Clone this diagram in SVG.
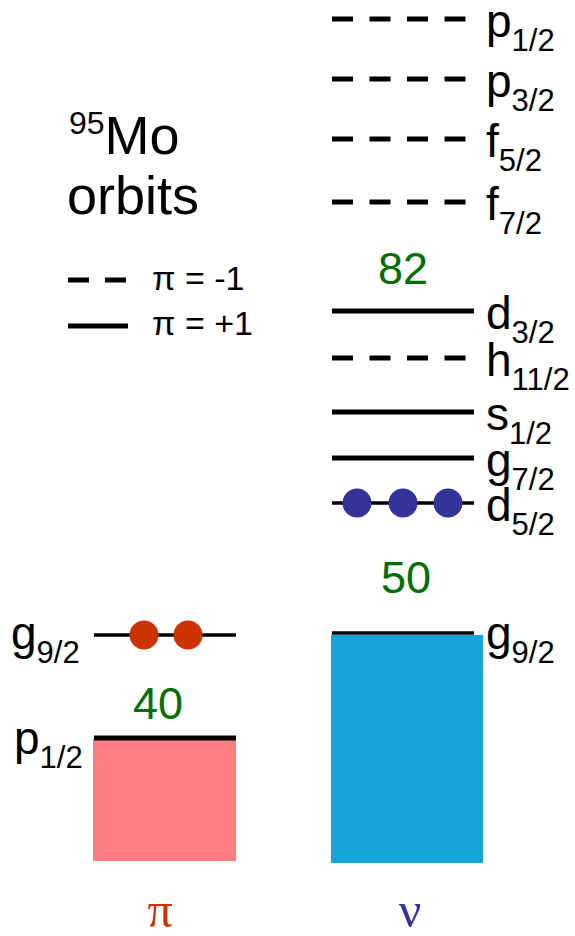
<svg xmlns="http://www.w3.org/2000/svg" width="575" height="936" viewBox="0 0 575 936">
<style>
.t{font-family:"Liberation Sans",Arial,sans-serif;fill:#000}
.lab{font-size:46px}
.sub{font-size:31px}
.num{font-family:"Liberation Sans",Arial,sans-serif;font-size:45px;fill:#006E00;text-anchor:middle}
.solid{stroke:#000;stroke-width:5;fill:none}
.thin{stroke:#000;stroke-width:3.5;fill:none}
.dash{stroke:#000;stroke-width:5;fill:none;stroke-dasharray:21 16.5}
.greek{font-family:"Liberation Serif","Times New Roman",serif;font-size:50px;text-anchor:middle}
</style>
<rect width="575" height="936" fill="#fff"/>
<g id="title">
<text class="t" x="69" y="154" font-size="54"><tspan font-size="32" dy="-20">95</tspan><tspan dy="20">Mo</tspan></text>
<text class="t" x="67" y="214" font-size="54">orbits</text>
</g>
<g id="legend">
<line class="dash" x1="68" y1="280" x2="126" y2="280" style="stroke-dasharray:21 16"/>
<line class="solid" x1="68" y1="326" x2="128" y2="326"/>
<text class="t" x="152" y="290" font-size="34">π = -1</text>
<text class="t" x="152" y="335" font-size="34">π = +1</text>
</g>
<g id="proton-core">
<rect x="93" y="739" width="143" height="122" fill="#FF7F80"/>
<line class="solid" x1="94" y1="738" x2="236" y2="738"/>
<text class="t lab" x="14" y="754">p<tspan class="sub" dy="14">1/2</tspan></text>
<text class="num" x="158" y="719">40</text>
</g>
<g id="proton-g92">
<line class="thin" x1="94" y1="635" x2="236" y2="635"/>
<circle cx="144" cy="635" r="14.5" fill="#CC3300"/>
<circle cx="188" cy="635" r="14.5" fill="#CC3300"/>
<text class="t lab" x="11" y="649">g<tspan class="sub" dy="14">9/2</tspan></text>
</g>
<g id="neutron-core">
<rect x="331" y="635" width="152" height="228" fill="#18A6DA"/>
<line class="thin" x1="332" y1="633" x2="474" y2="633"/>
<text class="t lab" x="486" y="649">g<tspan class="sub" dy="14">9/2</tspan></text>
<text class="num" x="406" y="593">50</text>
</g>
<g id="neutron-d52">
<line class="thin" x1="332" y1="503" x2="474" y2="503"/>
<circle cx="357" cy="503" r="14.5" fill="#333399"/>
<circle cx="403" cy="503" r="14.5" fill="#333399"/>
<circle cx="448" cy="503" r="14.5" fill="#333399"/>
<text class="t lab" x="486" y="521">d<tspan class="sub" dy="14">5/2</tspan></text>
</g>
<g id="neutron-g72">
<line class="solid" x1="332" y1="458" x2="474" y2="458"/>
<text class="t lab" x="486" y="476">g<tspan class="sub" dy="14">7/2</tspan></text>
</g>
<g id="neutron-s12">
<line class="solid" x1="332" y1="412" x2="474" y2="412"/>
<text class="t lab" x="486" y="430">s<tspan class="sub" dy="14">1/2</tspan></text>
</g>
<g id="neutron-h112">
<line class="dash" x1="332" y1="358" x2="466" y2="358"/>
<text class="t lab" x="486" y="376">h<tspan class="sub" dy="14">11/2</tspan></text>
</g>
<g id="neutron-d32">
<line class="solid" x1="332" y1="311" x2="474" y2="311"/>
<text class="t lab" x="486" y="329">d<tspan class="sub" dy="14">3/2</tspan></text>
<text class="num" x="403" y="284">82</text>
</g>
<g id="neutron-f72">
<line class="dash" x1="332" y1="202" x2="466" y2="202"/>
<text class="t lab" x="486" y="220">f<tspan class="sub" dy="14">7/2</tspan></text>
</g>
<g id="neutron-f52">
<line class="dash" x1="332" y1="139" x2="466" y2="139"/>
<text class="t lab" x="486" y="157">f<tspan class="sub" dy="14">5/2</tspan></text>
</g>
<g id="neutron-p32">
<line class="dash" x1="332" y1="79" x2="466" y2="79"/>
<text class="t lab" x="486" y="97">p<tspan class="sub" dy="14">3/2</tspan></text>
</g>
<g id="neutron-p12">
<line class="dash" x1="332" y1="19" x2="466" y2="19"/>
<text class="t lab" x="486" y="37">p<tspan class="sub" dy="14">1/2</tspan></text>
</g>
<g id="axis-labels">
<text class="greek" x="160" y="927" fill="#CC3300">π</text>
<text class="greek" x="410" y="927" fill="#333399">ν</text>
</g>
<g id="connectors"></g>
</svg>
